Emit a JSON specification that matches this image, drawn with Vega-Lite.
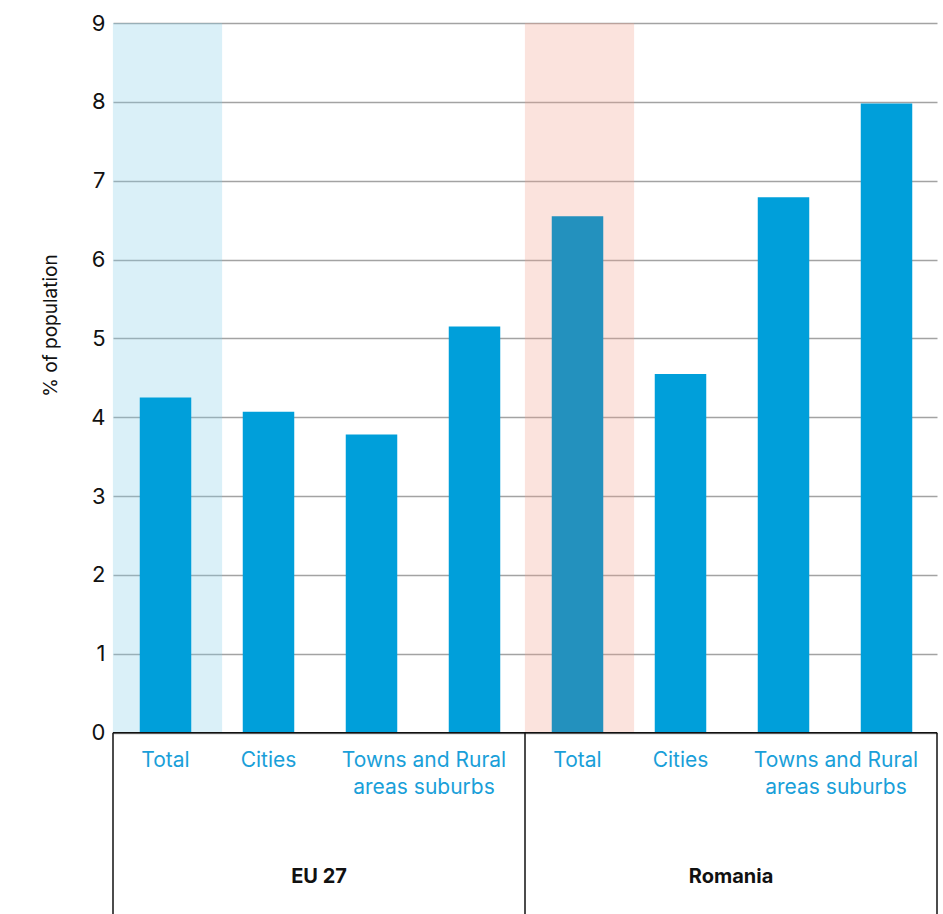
{
  "$schema": "https://vega.github.io/schema/vega-lite/v6.json",
  "width": 824,
  "height": 891,
  "autosize": "none",
  "padding": {"left": 113, "top": 23, "right": 6, "bottom": 0},
  "config": {"view": {"stroke": null}, "font": "Inter"},
  "datasets": {
    "bars": [
      {"key": "c1", "group": "EU 27", "category": "Total", "value": 4.25},
      {"key": "c2", "group": "EU 27", "category": "Cities", "value": 4.07},
      {"key": "c3", "group": "EU 27", "category": "Towns and suburbs", "value": 3.78},
      {"key": "c4", "group": "EU 27", "category": "Rural areas", "value": 5.15},
      {"key": "c5", "group": "Romania", "category": "Total", "value": 6.55},
      {"key": "c6", "group": "Romania", "category": "Cities", "value": 4.55},
      {"key": "c7", "group": "Romania", "category": "Towns and suburbs", "value": 6.79},
      {"key": "c8", "group": "Romania", "category": "Rural areas", "value": 7.98}
    ],
    "highlights": [
      {"key": "c1", "group": "EU 27"},
      {"key": "c5", "group": "Romania"}
    ],
    "labels": [
      {"key": "c1", "label": "Total"},
      {"key": "c2", "label": "Cities"},
      {"key": "c5", "label": "Total"},
      {"key": "c6", "label": "Cities"}
    ],
    "wideLabels": [
      {"key": "c3", "label": "Towns and Rural\nareas suburbs"},
      {"key": "c7", "label": "Towns and Rural\nareas suburbs"}
    ],
    "groups": [
      {"key": "c2", "label": "EU 27"},
      {"key": "c6", "label": "Romania"}
    ],
    "dividers": [
      {"key": "c1"},
      {"key": "c5"}
    ],
    "endDivider": [
      {"key": "c8"}
    ]
  },
  "layer": [
    {
      "data": {"name": "highlights"},
      "mark": {"type": "bar", "width": {"band": 1.06}, "xOffset": 3, "opacity": 0.3},
      "encoding": {
        "x": {"field": "key", "type": "nominal", "scale": {"domain": ["c1","c2","c3","c4","c5","c6","c7","c8"], "paddingInner": 0, "paddingOuter": 0}, "axis": null},
        "y": {"datum": 0, "type": "quantitative", "scale": {"domain": [-2.3, 9], "nice": false, "zero": false},
          "axis": {"values": [0,1,2,3,4,5,6,7,8,9], "format": "d", "grid": true, "gridColor": "#a3a3a3", "gridWidth": 1.5, "domain": false, "ticks": false,
            "labelFontSize": 22, "labelColor": "#111111", "labelPadding": 8, "zindex": 0,
            "title": "% of population", "titleFontSize": 19, "titleFontWeight": "normal", "titleColor": "#111111",
            "titleX": -63, "titleY": 302, "titleBaseline": "middle", "titleAlign": "center"}},
        "y2": {"datum": 9},
        "color": {"field": "group", "type": "nominal", "scale": {"domain": ["EU 27", "Romania"], "range": ["#84cde8", "#f2a28e"]}, "legend": null}
      }
    },
    {
      "data": {"name": "bars"},
      "mark": {"type": "bar", "width": {"band": 0.5}, "xOffset": 1},
      "encoding": {
        "x": {"field": "key", "type": "nominal"},
        "y": {"field": "value", "type": "quantitative"},
        "y2": {"datum": 0},
        "color": {"condition": {"test": "datum.key === 'c5'", "value": "#2391be"}, "value": "#009fda"}
      }
    },
    {
      "data": {"name": "labels"},
      "mark": {"type": "text", "fontSize": 21, "color": "#1a9fd9", "baseline": "alphabetic", "align": "center", "dx": 1},
      "encoding": {
        "x": {"field": "key", "type": "nominal"},
        "y": {"datum": -0.44, "type": "quantitative"},
        "text": {"field": "label"}
      }
    },
    {
      "data": {"name": "wideLabels"},
      "mark": {"type": "text", "fontSize": 21, "color": "#1a9fd9", "baseline": "alphabetic", "align": "center", "lineBreak": "\n", "lineHeight": 27, "dx": 2},
      "encoding": {
        "x": {"field": "key", "type": "nominal", "bandPosition": 1},
        "y": {"datum": -0.44, "type": "quantitative"},
        "text": {"field": "label"}
      }
    },
    {
      "data": {"name": "groups"},
      "mark": {"type": "text", "fontSize": 20, "fontWeight": "bold", "color": "#111111", "baseline": "middle", "align": "center"},
      "encoding": {
        "x": {"field": "key", "type": "nominal", "bandPosition": 1},
        "y": {"datum": -1.83, "type": "quantitative"},
        "text": {"field": "label"}
      }
    },
    {
      "data": {"values": [{}]},
      "mark": {"type": "rule", "color": "#111111", "strokeWidth": 1.5},
      "encoding": {"y": {"datum": 0, "type": "quantitative"}}
    },
    {
      "data": {"name": "dividers"},
      "mark": {"type": "rule", "color": "#111111", "strokeWidth": 1.5},
      "encoding": {
        "x": {"field": "key", "type": "nominal", "bandPosition": 0},
        "y": {"datum": 0, "type": "quantitative"},
        "y2": {"datum": -2.3}
      }
    },
    {
      "data": {"name": "endDivider"},
      "mark": {"type": "rule", "color": "#111111", "strokeWidth": 1.5},
      "encoding": {
        "x": {"field": "key", "type": "nominal", "bandPosition": 1},
        "y": {"datum": 0, "type": "quantitative"},
        "y2": {"datum": -2.3}
      }
    }
  ]
}
